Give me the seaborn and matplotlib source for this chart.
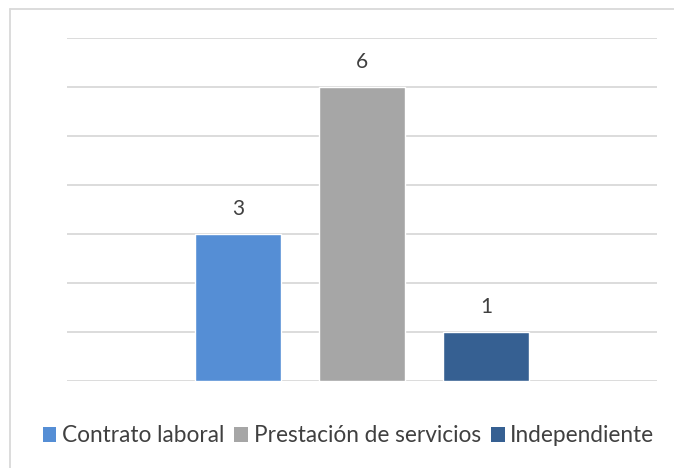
import matplotlib
matplotlib.use("Agg")
import matplotlib.pyplot as plt
import seaborn as sns
import pandas as pd
from matplotlib.patches import Patch

categorias = ["Contrato laboral", "Prestación de servicios", "Independiente"]
valores = [3, 6, 1]
colores = ["#558ed5", "#a6a6a6", "#366092"]

sns.set_style("white")
plt.rcParams["font.family"] = ["Lato", "DejaVu Sans"]

df = pd.DataFrame({"tipo": categorias, "n": valores})

fig = plt.figure(figsize=(6.74, 4.68), dpi=100)
ax = fig.add_axes([67 / 674, 87 / 468, 590 / 674, 343 / 468])

sns.barplot(data=df, x="tipo", y="n", hue="tipo", palette=colores, saturation=1,
            width=0.694, legend=False, ax=ax, zorder=3)

ax.set_ylim(0, 7)
ax.set_xlim(-1.379, 3.379)
ax.set_yticks(range(0, 8))
ax.grid(axis="y", color="#d9d9d9", linewidth=1.3, zorder=0)
ax.set_axisbelow(True)
ax.tick_params(left=False, bottom=False, labelleft=False, labelbottom=False)
ax.set_xlabel("")
ax.set_ylabel("")
for s in ax.spines.values():
    s.set_visible(False)

for c in ax.containers:
    ax.bar_label(c, padding=11, fontsize=15, color="#404040")

handles = [Patch(facecolor=c, edgecolor="none") for c in colores]
fig.legend(handles, categorias, loc="center", bbox_to_anchor=(0.517, 1 - 436 / 468),
           ncol=3, frameon=False, fontsize=16.3, handlelength=0.6, handleheight=0.6,
           handletextpad=0.25, columnspacing=0.45, labelcolor="#404040")

# chart border (only top and left visible in the crop)
fig.add_artist(plt.Line2D([10 / 674, 1.0], [1 - 9 / 468, 1 - 9 / 468],
                          color="#d9d9d9", linewidth=1.3, transform=fig.transFigure))
fig.add_artist(plt.Line2D([10 / 674, 10 / 674], [0, 1 - 9 / 468],
                          color="#d9d9d9", linewidth=1.3, transform=fig.transFigure))

fig.savefig("out.png", dpi=100)
